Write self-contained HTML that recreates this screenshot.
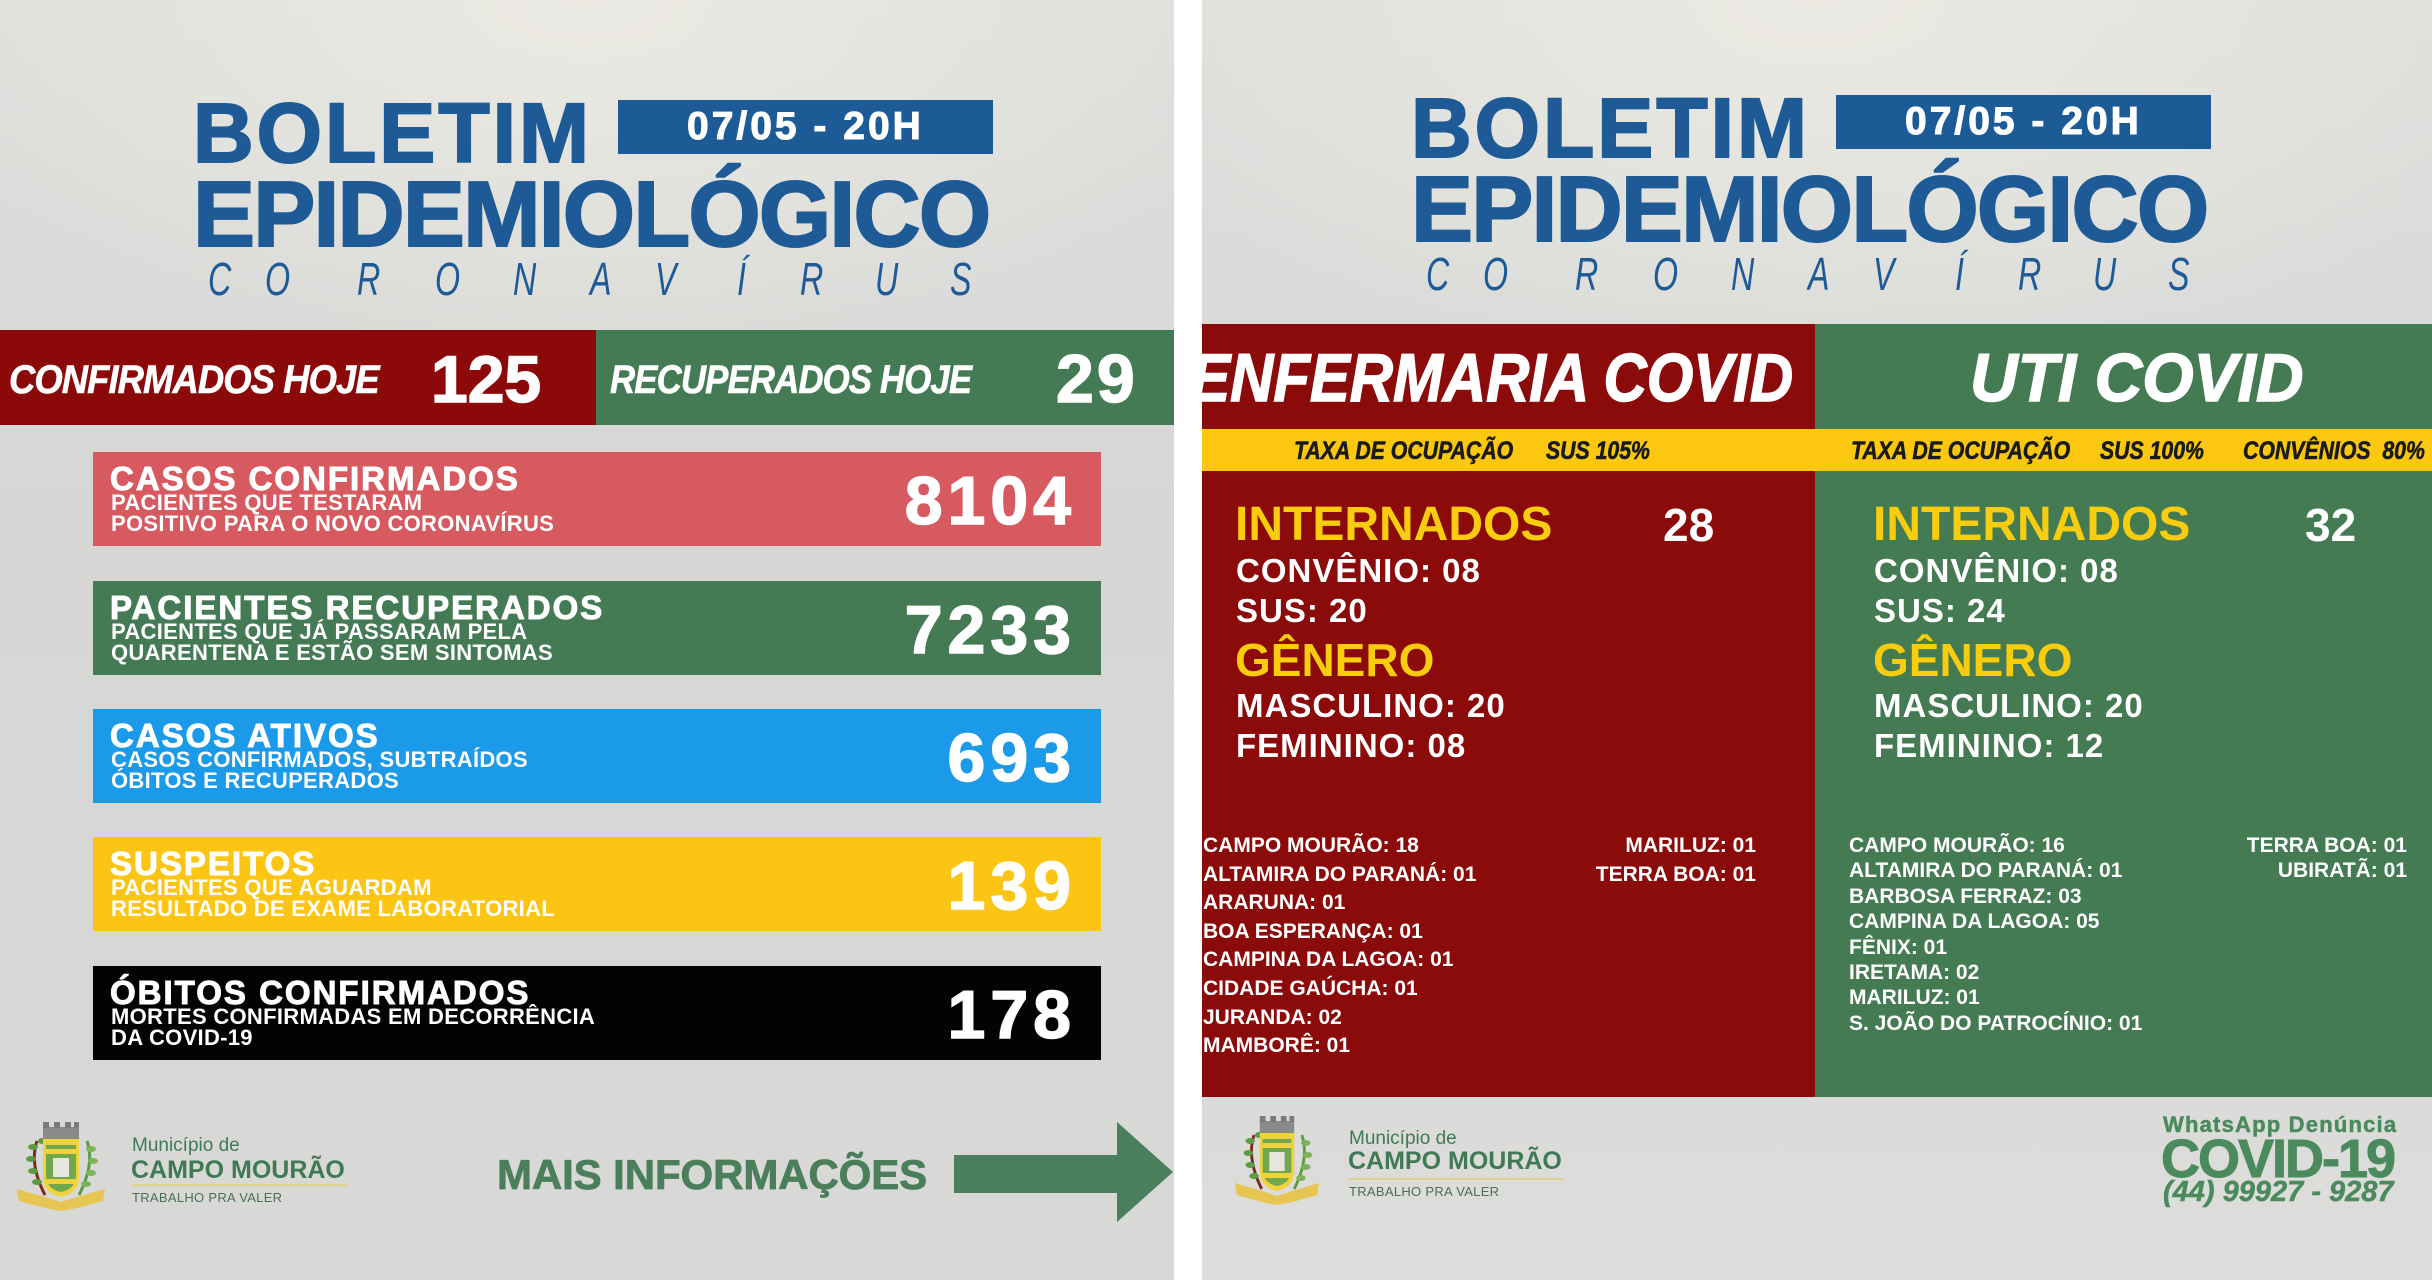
<!DOCTYPE html>
<html><head><meta charset="utf-8">
<style>
html,body{margin:0;padding:0;}
body{width:2432px;height:1280px;position:relative;overflow:hidden;background:#fff;font-family:"Liberation Sans",Arial,sans-serif;}
.p{position:absolute;top:0;height:1280px;overflow:hidden;}
.t{position:absolute;line-height:1;white-space:nowrap;font-family:"Liberation Sans",Arial,sans-serif;font-weight:bold;}
.blue{color:#1e5a96;}
.bt{-webkit-text-stroke:2px #1e5a96;}
.w{color:#fff;}
.y{color:#f9cd0e;}
.box{position:absolute;}
.cl{position:absolute;font-family:"Liberation Sans",Arial,sans-serif;font-weight:normal;font-style:italic;font-size:46px;line-height:1;color:#1e5a96;transform:scaleX(0.7);transform-origin:left top;}
.ct{font-size:33px;letter-spacing:2px;-webkit-text-stroke:1px #fff;color:#fff;}
.cs{font-size:22px;letter-spacing:0.3px;color:#fff;}
.cn{font-size:68px;letter-spacing:5px;color:#fff;-webkit-text-stroke:1.5px #fff;}
.tx{font-size:25px;font-style:italic;color:#1a1a1a;-webkit-text-stroke:0.6px #1a1a1a;transform:scaleX(0.85);transform-origin:left top;top:439px;}
.li{font-size:21px;color:#fff;}
.g{color:#3f7a55;}
</style></head><body>

<!-- LEFT PANEL -->
<div class="p" style="left:0;width:1174px;background:radial-gradient(ellipse 60% 30% at 50% 0%, #ebe9e2 0%, rgba(235,233,226,0) 100%), linear-gradient(#dedfdc,#d6d7d5 40%,#d8d9d7 100%);"></div>

<div class="t blue bt" style="left:193px;top:91px;font-size:84px;letter-spacing:3px;">BOLETIM</div>
<div class="t blue bt" style="left:193px;top:168px;font-size:93px;letter-spacing:-1.8px;">EPIDEMIOLÓGICO</div>
<div class="box" style="left:618px;top:100px;width:375px;height:54px;background:#1d5b97;"></div>
<div class="t w" style="left:687px;top:107px;font-size:39px;letter-spacing:3px;-webkit-text-stroke:1px #fff;">07/05 - 20H</div>
<div class="cl" style="left:208px;top:256px;">C</div>
<div class="cl" style="left:265px;top:256px;">O</div>
<div class="cl" style="left:357px;top:256px;">R</div>
<div class="cl" style="left:435px;top:256px;">O</div>
<div class="cl" style="left:513px;top:256px;">N</div>
<div class="cl" style="left:590px;top:256px;">A</div>
<div class="cl" style="left:655px;top:256px;">V</div>
<div class="cl" style="left:737px;top:256px;">Í</div>
<div class="cl" style="left:800px;top:256px;">R</div>
<div class="cl" style="left:875px;top:256px;">U</div>
<div class="cl" style="left:950px;top:256px;">S</div>

<!-- top bars -->
<div class="box" style="left:0;top:330px;width:596px;height:95px;background:#8c0909;"></div>
<div class="box" style="left:596px;top:330px;width:578px;height:95px;background:#447b55;"></div>
<div class="t w" style="left:9px;top:360px;font-size:40px;font-style:italic;letter-spacing:-1px;-webkit-text-stroke:0.6px #fff;transform:scaleX(0.91);transform-origin:left top;">CONFIRMADOS HOJE</div>
<div class="t w" style="left:431px;top:346px;font-size:66px;-webkit-text-stroke:1.5px #fff;">125</div>
<div class="t w" style="left:610px;top:360px;font-size:40px;font-style:italic;letter-spacing:-1px;-webkit-text-stroke:0.6px #fff;transform:scaleX(0.87);transform-origin:left top;">RECUPERADOS HOJE</div>
<div class="t w" style="left:1056px;top:345px;font-size:68px;letter-spacing:3px;-webkit-text-stroke:1.5px #fff;">29</div>

<!-- cards -->
<div class="box" style="left:93px;top:452px;width:1008px;height:94px;background:#d75a60;"></div>
<div class="t ct" style="left:110px;top:462px;">CASOS CONFIRMADOS</div>
<div class="t cs" style="left:111px;top:492px;">PACIENTES QUE TESTARAM</div>
<div class="t cs" style="left:111px;top:513px;">POSITIVO PARA O NOVO CORONAVÍRUS</div>
<div class="t cn" style="right:1356px;top:467px;">8104</div>

<div class="box" style="left:93px;top:581px;width:1008px;height:94px;background:#447b55;"></div>
<div class="t ct" style="left:110px;top:591px;">PACIENTES RECUPERADOS</div>
<div class="t cs" style="left:111px;top:621px;">PACIENTES QUE JÁ PASSARAM PELA</div>
<div class="t cs" style="left:111px;top:642px;">QUARENTENA E ESTÃO SEM SINTOMAS</div>
<div class="t cn" style="right:1356px;top:596px;">7233</div>

<div class="box" style="left:93px;top:709px;width:1008px;height:94px;background:#1b9aea;"></div>
<div class="t ct" style="left:110px;top:719px;">CASOS ATIVOS</div>
<div class="t cs" style="left:111px;top:749px;">CASOS CONFIRMADOS, SUBTRAÍDOS</div>
<div class="t cs" style="left:111px;top:770px;">ÓBITOS E RECUPERADOS</div>
<div class="t cn" style="right:1356px;top:724px;">693</div>

<div class="box" style="left:93px;top:837px;width:1008px;height:94px;background:#fdc513;"></div>
<div class="t ct" style="left:110px;top:847px;">SUSPEITOS</div>
<div class="t cs" style="left:111px;top:877px;">PACIENTES QUE AGUARDAM</div>
<div class="t cs" style="left:111px;top:898px;">RESULTADO DE EXAME LABORATORIAL</div>
<div class="t cn" style="right:1356px;top:852px;">139</div>

<div class="box" style="left:93px;top:966px;width:1008px;height:94px;background:#030303;"></div>
<div class="t ct" style="left:110px;top:976px;">ÓBITOS CONFIRMADOS</div>
<div class="t cs" style="left:111px;top:1006px;">MORTES CONFIRMADAS EM DECORRÊNCIA</div>
<div class="t cs" style="left:111px;top:1027px;">DA COVID-19</div>
<div class="t cn" style="right:1356px;top:981px;">178</div>

<!-- left footer -->
<svg class="box" style="left:15px;top:1119px;" width="92" height="92" viewBox="0 0 92 92">
  <path d="M2 70 L30 78 L46 83 L62 78 L90 70 L88 82 L62 89 L46 92 L30 89 L4 82 Z" fill="#e6c552"/>
  <path d="M22 22 Q14 45 30 76" stroke="#7a2a1a" stroke-width="3" fill="none"/>
  <g fill="#5d9a45"><ellipse cx="18" cy="28" rx="5" ry="3"/><ellipse cx="16" cy="40" rx="5" ry="3"/><ellipse cx="18" cy="52" rx="5" ry="3"/><ellipse cx="22" cy="63" rx="5" ry="3"/><ellipse cx="27" cy="22" rx="4" ry="3"/></g>
  <path d="M72 22 Q80 45 64 76" stroke="#5d9a45" stroke-width="3" fill="none"/>
  <g fill="#7cb25a"><ellipse cx="76" cy="30" rx="5" ry="3"/><ellipse cx="78" cy="42" rx="5" ry="3"/><ellipse cx="76" cy="54" rx="5" ry="3"/><ellipse cx="71" cy="65" rx="5" ry="3"/></g>
  <rect x="28" y="8" width="36" height="12" fill="#8a8a88"/>
  <rect x="28" y="3" width="6" height="6" fill="#7a7a78"/><rect x="39" y="3" width="6" height="6" fill="#7a7a78"/><rect x="50" y="3" width="6" height="6" fill="#7a7a78"/><rect x="59" y="3" width="5" height="6" fill="#7a7a78"/>
  <path d="M28 20 H64 V58 Q64 74 46 78 Q28 74 28 58 Z" fill="#f0d23c"/>
  <path d="M31 26 H61 V56 Q61 70 46 73 Q31 70 31 56 Z" fill="#72a84c"/>
  <rect x="31" y="30" width="30" height="5" fill="#f0d23c"/>
  <rect x="31" y="60" width="30" height="5" fill="#f0d23c"/>
  <rect x="38" y="39" width="16" height="19" fill="#e6e6de"/>
</svg>
<div class="t g" style="left:132px;top:1136px;font-size:19px;font-weight:normal;">Município de</div>
<div class="t g" style="left:131px;top:1158px;font-size:25px;">CAMPO MOURÃO</div>
<div class="box" style="left:132px;top:1184px;width:215px;height:2px;background:#e0d48a;"></div>
<div class="t" style="left:132px;top:1191px;font-size:13px;font-weight:normal;color:#4a6d58;letter-spacing:0.3px;">TRABALHO PRA VALER</div>

<div class="t" style="left:497px;top:1154px;font-size:42px;letter-spacing:-0.1px;color:#4b7f5b;-webkit-text-stroke:0.8px #4b7f5b;">MAIS INFORMAÇÕES</div>
<div class="box" style="left:954px;top:1155px;width:166px;height:38px;background:#4b7f5b;"></div>
<svg class="box" style="left:1115px;top:1120px;" width="60" height="104" viewBox="0 0 60 104"><polygon points="2,2 58,52 2,102" fill="#4b7f5b"/></svg>

<!-- RIGHT PANEL -->
<div class="p" style="left:1202px;width:1230px;background:radial-gradient(ellipse 60% 30% at 50% 0%, #ebe9e2 0%, rgba(235,233,226,0) 100%), linear-gradient(#dedfdc,#d8d9d7 40%,#dcdcda 100%);"></div>

<div class="t blue bt" style="left:1411px;top:86px;font-size:84px;letter-spacing:3px;">BOLETIM</div>
<div class="t blue bt" style="left:1411px;top:163px;font-size:93px;letter-spacing:-1.8px;">EPIDEMIOLÓGICO</div>
<div class="box" style="left:1836px;top:95px;width:375px;height:54px;background:#1d5b97;"></div>
<div class="t w" style="left:1905px;top:102px;font-size:39px;letter-spacing:3px;-webkit-text-stroke:1px #fff;">07/05 - 20H</div>
<div class="cl" style="left:1426px;top:251px;">C</div>
<div class="cl" style="left:1483px;top:251px;">O</div>
<div class="cl" style="left:1575px;top:251px;">R</div>
<div class="cl" style="left:1653px;top:251px;">O</div>
<div class="cl" style="left:1731px;top:251px;">N</div>
<div class="cl" style="left:1808px;top:251px;">A</div>
<div class="cl" style="left:1873px;top:251px;">V</div>
<div class="cl" style="left:1955px;top:251px;">Í</div>
<div class="cl" style="left:2018px;top:251px;">R</div>
<div class="cl" style="left:2093px;top:251px;">U</div>
<div class="cl" style="left:2168px;top:251px;">S</div>

<div class="box" style="left:1202px;top:324px;width:613px;height:773px;background:#8b0a0a;overflow:hidden;">
  <div class="t w" style="right:22px;top:20px;font-size:68px;font-style:italic;transform:scaleX(0.88);transform-origin:right top;-webkit-text-stroke:1.5px #fff;">ENFERMARIA COVID</div>
</div>
<div class="box" style="left:1815px;top:324px;width:617px;height:773px;background:#447b53;"></div>
<div class="t w" style="left:1970px;top:344px;font-size:68px;font-style:italic;transform:scaleX(0.97);transform-origin:left top;-webkit-text-stroke:1.5px #fff;">UTI COVID</div>

<div class="box" style="left:1202px;top:429px;width:1230px;height:42px;background:#fcc80f;"></div>
<div class="t tx" style="left:1294px;">TAXA DE OCUPAÇÃO</div>
<div class="t tx" style="left:1546px;">SUS 105%</div>
<div class="t tx" style="left:1851px;">TAXA DE OCUPAÇÃO</div>
<div class="t tx" style="left:2100px;">SUS 100%</div>
<div class="t tx" style="left:2243px;">CONVÊNIOS&nbsp; 80%</div>

<!-- red block -->
<div class="t y" style="left:1235px;top:501px;font-size:48px;">INTERNADOS</div>
<div class="t w" style="left:1663px;top:502px;font-size:46px;">28</div>
<div class="t w" style="left:1236px;top:554px;font-size:33px;letter-spacing:1px;">CONVÊNIO: 08</div>
<div class="t w" style="left:1236px;top:594px;font-size:33px;letter-spacing:1px;">SUS: 20</div>
<div class="t y" style="left:1235px;top:637px;font-size:46px;">GÊNERO</div>
<div class="t w" style="left:1236px;top:689px;font-size:33px;letter-spacing:1px;">MASCULINO: 20</div>
<div class="t w" style="left:1236px;top:729px;font-size:33px;letter-spacing:1px;">FEMININO: 08</div>

<div class="t li" style="left:1203px;top:835px;">CAMPO MOURÃO: 18</div>
<div class="t li" style="left:1203px;top:864px;">ALTAMIRA DO PARANÁ: 01</div>
<div class="t li" style="left:1203px;top:892px;">ARARUNA: 01</div>
<div class="t li" style="left:1203px;top:921px;">BOA ESPERANÇA: 01</div>
<div class="t li" style="left:1203px;top:949px;">CAMPINA DA LAGOA: 01</div>
<div class="t li" style="left:1203px;top:978px;">CIDADE GAÚCHA: 01</div>
<div class="t li" style="left:1203px;top:1007px;">JURANDA: 02</div>
<div class="t li" style="left:1203px;top:1035px;">MAMBORÊ: 01</div>
<div class="t li" style="right:676px;top:835px;">MARILUZ: 01</div>
<div class="t li" style="right:676px;top:864px;">TERRA BOA: 01</div>

<!-- green block -->
<div class="t y" style="left:1873px;top:501px;font-size:48px;">INTERNADOS</div>
<div class="t w" style="left:2305px;top:502px;font-size:46px;">32</div>
<div class="t w" style="left:1874px;top:554px;font-size:33px;letter-spacing:1px;">CONVÊNIO: 08</div>
<div class="t w" style="left:1874px;top:594px;font-size:33px;letter-spacing:1px;">SUS: 24</div>
<div class="t y" style="left:1873px;top:637px;font-size:46px;">GÊNERO</div>
<div class="t w" style="left:1874px;top:689px;font-size:33px;letter-spacing:1px;">MASCULINO: 20</div>
<div class="t w" style="left:1874px;top:729px;font-size:33px;letter-spacing:1px;">FEMININO: 12</div>

<div class="t li" style="left:1849px;top:835px;">CAMPO MOURÃO: 16</div>
<div class="t li" style="left:1849px;top:860px;">ALTAMIRA DO PARANÁ: 01</div>
<div class="t li" style="left:1849px;top:886px;">BARBOSA FERRAZ: 03</div>
<div class="t li" style="left:1849px;top:911px;">CAMPINA DA LAGOA: 05</div>
<div class="t li" style="left:1849px;top:937px;">FÊNIX: 01</div>
<div class="t li" style="left:1849px;top:962px;">IRETAMA: 02</div>
<div class="t li" style="left:1849px;top:987px;">MARILUZ: 01</div>
<div class="t li" style="left:1849px;top:1013px;">S. JOÃO DO PATROCÍNIO: 01</div>
<div class="t li" style="right:25px;top:835px;">TERRA BOA: 01</div>
<div class="t li" style="right:25px;top:860px;">UBIRATÃ: 01</div>

<!-- right footer -->
<svg class="box" style="left:1233px;top:1113px;" width="88" height="92" viewBox="0 0 92 92" preserveAspectRatio="none">
  <path d="M2 70 L30 78 L46 83 L62 78 L90 70 L88 82 L62 89 L46 92 L30 89 L4 82 Z" fill="#e6c552"/>
  <path d="M22 22 Q14 45 30 76" stroke="#7a2a1a" stroke-width="3" fill="none"/>
  <g fill="#5d9a45"><ellipse cx="18" cy="28" rx="5" ry="3"/><ellipse cx="16" cy="40" rx="5" ry="3"/><ellipse cx="18" cy="52" rx="5" ry="3"/><ellipse cx="22" cy="63" rx="5" ry="3"/><ellipse cx="27" cy="22" rx="4" ry="3"/></g>
  <path d="M72 22 Q80 45 64 76" stroke="#5d9a45" stroke-width="3" fill="none"/>
  <g fill="#7cb25a"><ellipse cx="76" cy="30" rx="5" ry="3"/><ellipse cx="78" cy="42" rx="5" ry="3"/><ellipse cx="76" cy="54" rx="5" ry="3"/><ellipse cx="71" cy="65" rx="5" ry="3"/></g>
  <rect x="28" y="8" width="36" height="12" fill="#8a8a88"/>
  <rect x="28" y="3" width="6" height="6" fill="#7a7a78"/><rect x="39" y="3" width="6" height="6" fill="#7a7a78"/><rect x="50" y="3" width="6" height="6" fill="#7a7a78"/><rect x="59" y="3" width="5" height="6" fill="#7a7a78"/>
  <path d="M28 20 H64 V58 Q64 74 46 78 Q28 74 28 58 Z" fill="#f0d23c"/>
  <path d="M31 26 H61 V56 Q61 70 46 73 Q31 70 31 56 Z" fill="#72a84c"/>
  <rect x="31" y="30" width="30" height="5" fill="#f0d23c"/>
  <rect x="31" y="60" width="30" height="5" fill="#f0d23c"/>
  <rect x="38" y="39" width="16" height="19" fill="#e6e6de"/>
</svg>
<div class="t g" style="left:1349px;top:1129px;font-size:19px;font-weight:normal;">Município de</div>
<div class="t g" style="left:1348px;top:1149px;font-size:25px;">CAMPO MOURÃO</div>
<div class="box" style="left:1349px;top:1178px;width:214px;height:2px;background:#e0d48a;"></div>
<div class="t" style="left:1349px;top:1185px;font-size:13px;font-weight:normal;color:#4a6d58;letter-spacing:0.3px;">TRABALHO PRA VALER</div>

<div class="t" style="left:2163px;top:1114px;font-size:22px;letter-spacing:1.2px;color:#4a8a5c;-webkit-text-stroke:0.5px #4a8a5c;">WhatsApp Denúncia</div>
<div class="t" style="left:2161px;top:1132px;font-size:54px;letter-spacing:-2px;color:#4a8a5c;-webkit-text-stroke:1px #4a8a5c;">COVID-19</div>
<div class="t" style="left:2163px;top:1178px;font-size:29px;font-style:italic;color:#4a8a5c;-webkit-text-stroke:0.5px #4a8a5c;">(44) 99927 - 9287</div>

</body></html>
